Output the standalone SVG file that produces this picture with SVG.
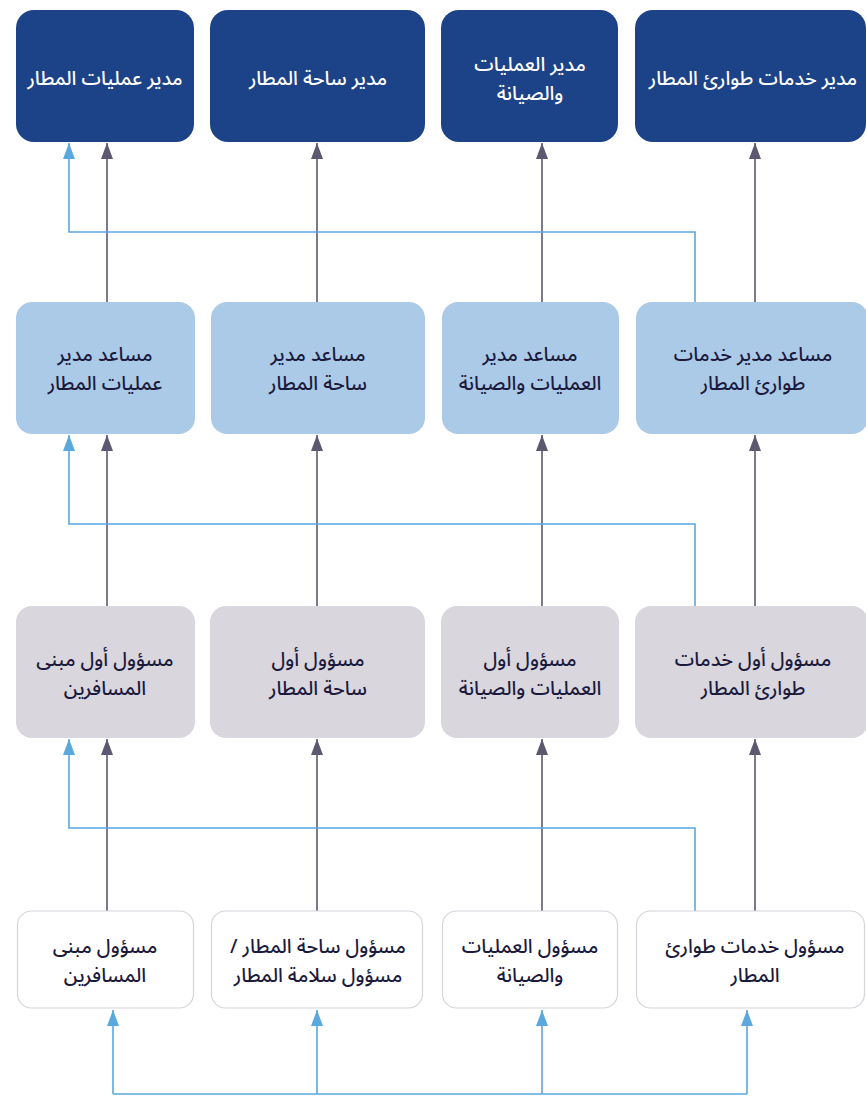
<svg xmlns="http://www.w3.org/2000/svg" width="866" height="1099" viewBox="0 0 866 1099">
<defs>
<style>
.t{font-family:"Noto Sans Arabic","Noto Sans","DejaVu Sans",sans-serif;font-size:19.5px;font-weight:500;text-anchor:middle;dominant-baseline:central;direction:rtl;unicode-bidi:embed}
.r1 rect{fill:#1c4288}
.r1 text{fill:#ffffff}
.r2 rect{fill:#abcae8}
.r3 rect{fill:#d9d6de}
.r4 rect{fill:#ffffff;stroke:#d6d4db;stroke-width:1.2}
.dk{fill:#1b1a3d}
.ln{fill:none;stroke-width:1.6}
.d{stroke:#5d5870}
.b{stroke:#5ba8df}
</style>
<marker id="ad" markerUnits="userSpaceOnUse" markerWidth="16" markerHeight="12" refX="16" refY="6" orient="auto"><path d="M0,0L16,6L0,12z" fill="#5d5870"/></marker>
<marker id="ab" markerUnits="userSpaceOnUse" markerWidth="16" markerHeight="12" refX="16" refY="6" orient="auto"><path d="M0,0L16,6L0,12z" fill="#5ba8df"/></marker>
</defs>
<rect width="866" height="1099" fill="#ffffff"/>
<g id="connectors">
<path class="ln d" marker-end="url(#ad)" d="M107,302V143"/>
<path class="ln d" marker-end="url(#ad)" d="M317,302V143"/>
<path class="ln d" marker-end="url(#ad)" d="M542,302V143"/>
<path class="ln d" marker-end="url(#ad)" d="M755,302V143"/>
<path class="ln d" marker-end="url(#ad)" d="M107,606V435"/>
<path class="ln d" marker-end="url(#ad)" d="M317,606V435"/>
<path class="ln d" marker-end="url(#ad)" d="M542,606V435"/>
<path class="ln d" marker-end="url(#ad)" d="M755,606V435"/>
<path class="ln d" marker-end="url(#ad)" d="M107,911V739"/>
<path class="ln d" marker-end="url(#ad)" d="M317,911V739"/>
<path class="ln d" marker-end="url(#ad)" d="M542,911V739"/>
<path class="ln d" marker-end="url(#ad)" d="M755,911V739"/>
<path class="ln b" marker-end="url(#ab)" d="M695,302V232H69V143"/>
<path class="ln b" marker-end="url(#ab)" d="M695,606V524H69V435"/>
<path class="ln b" marker-end="url(#ab)" d="M695,911V828H69V739"/>
<path class="ln b" d="M113,1094H747"/>
<path class="ln b" marker-end="url(#ab)" d="M113,1094V1010"/>
<path class="ln b" marker-end="url(#ab)" d="M317,1094V1010"/>
<path class="ln b" marker-end="url(#ab)" d="M542,1094V1010"/>
<path class="ln b" marker-end="url(#ab)" d="M747,1094V1010"/>
</g>
<g class="r1">
<g id="n1a"><rect x="16" y="10" width="178" height="132" rx="18"/><text class="t" x="105" y="78">مدير عمليات المطار</text></g>
<g id="n1b"><rect x="210" y="10" width="215" height="132" rx="18"/><text class="t" x="318" y="78">مدير ساحة المطار</text></g>
<g id="n1c"><rect x="441" y="10" width="177" height="132" rx="18"/><text class="t" x="530" y="64">مدير العمليات</text><text class="t" x="530" y="93">والصيانة</text></g>
<g id="n1d"><rect x="635" y="10" width="231" height="132" rx="18"/><text class="t" x="753" y="78">مدير خدمات طوارئ المطار</text></g>
</g>
<g class="r2">
<g id="n2a"><rect x="16" y="302" width="179" height="132" rx="16"/><text class="t dk" x="105" y="354">مساعد مدير</text><text class="t dk" x="105" y="383">عمليات المطار</text></g>
<g id="n2b"><rect x="211" y="302" width="214" height="132" rx="16"/><text class="t dk" x="318" y="354">مساعد مدير</text><text class="t dk" x="318" y="383">ساحة المطار</text></g>
<g id="n2c"><rect x="442" y="302" width="177" height="132" rx="16"/><text class="t dk" x="530" y="354">مساعد مدير</text><text class="t dk" x="530" y="383">العمليات والصيانة</text></g>
<g id="n2d"><rect x="636" y="302" width="232" height="132" rx="16"/><text class="t dk" x="753" y="354">مساعد مدير خدمات</text><text class="t dk" x="753" y="383">طوارئ المطار</text></g>
</g>
<g class="r3">
<g id="n3a"><rect x="16" y="606" width="179" height="132" rx="16"/><text class="t dk" x="105" y="659">مسؤول أول مبنى</text><text class="t dk" x="105" y="688">المسافرين</text></g>
<g id="n3b"><rect x="210" y="606" width="215" height="132" rx="16"/><text class="t dk" x="318" y="659">مسؤول أول</text><text class="t dk" x="318" y="688">ساحة المطار</text></g>
<g id="n3c"><rect x="441" y="606" width="178" height="132" rx="16"/><text class="t dk" x="530" y="659">مسؤول أول</text><text class="t dk" x="530" y="688">العمليات والصيانة</text></g>
<g id="n3d"><rect x="635" y="606" width="233" height="132" rx="16"/><text class="t dk" x="753" y="659">مسؤول أول خدمات</text><text class="t dk" x="753" y="688">طوارئ المطار</text></g>
</g>
<g class="r4">
<g id="n4a"><rect x="17.5" y="911" width="176" height="97" rx="14"/><text class="t dk" x="105" y="946">مسؤول مبنى</text><text class="t dk" x="105" y="975">المسافرين</text></g>
<g id="n4b"><rect x="211.5" y="911" width="211" height="97" rx="14"/><text class="t dk" x="318" y="946">مسؤول ساحة المطار /</text><text class="t dk" x="318" y="975">مسؤول سلامة المطار</text></g>
<g id="n4c"><rect x="442.5" y="911" width="175" height="97" rx="14"/><text class="t dk" x="530" y="946">مسؤول العمليات</text><text class="t dk" x="530" y="975">والصيانة</text></g>
<g id="n4d"><rect x="636.5" y="911" width="228" height="97" rx="14"/><text class="t dk" x="755" y="946">مسؤول خدمات طوارئ</text><text class="t dk" x="755" y="975">المطار</text></g>
</g>
</svg>
